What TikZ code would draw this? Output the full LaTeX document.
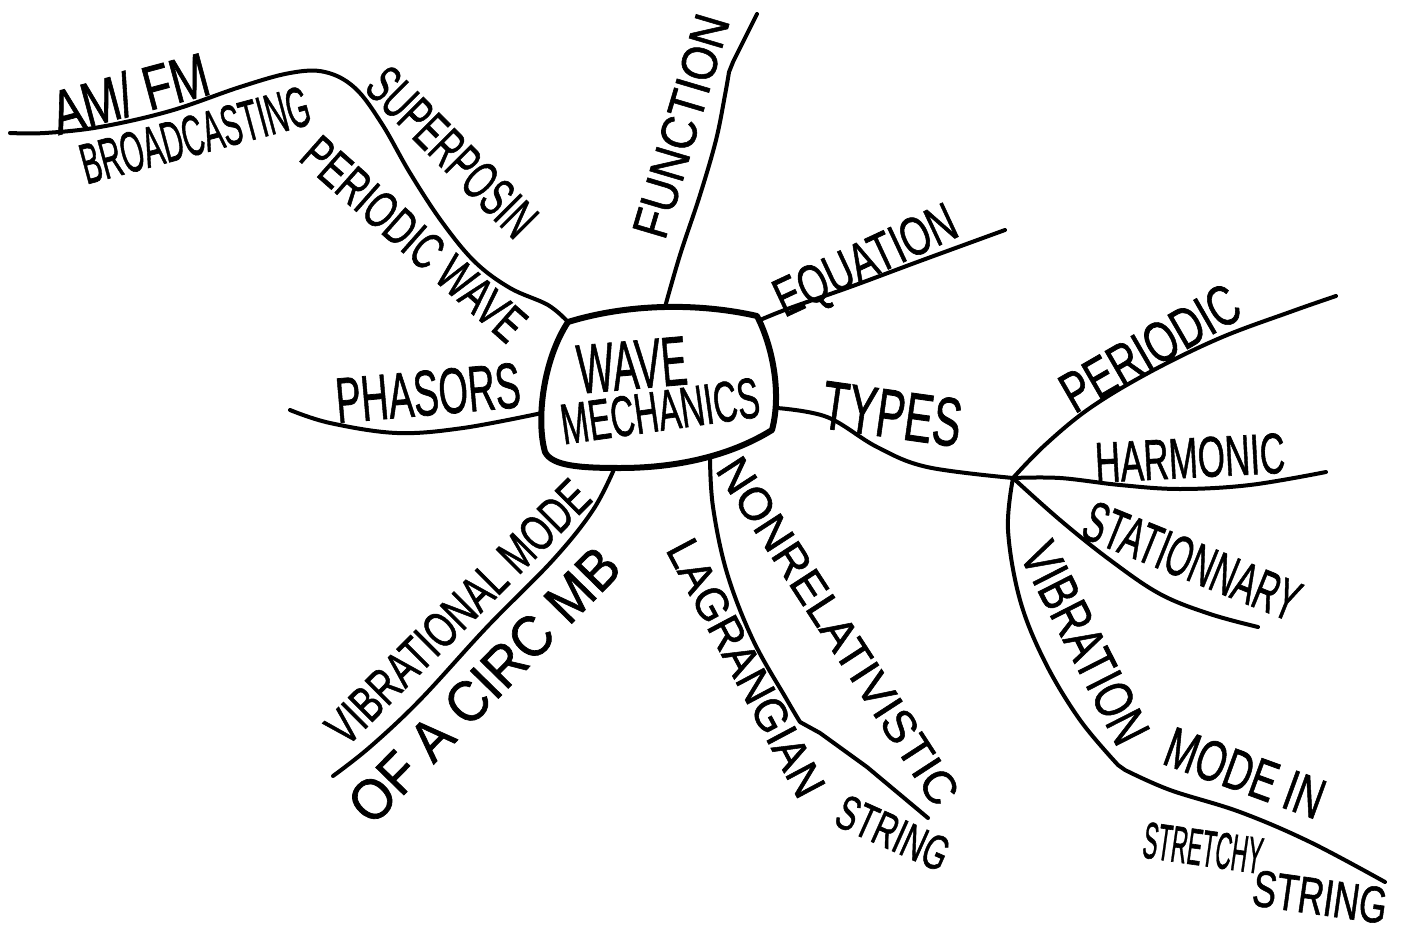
\documentclass[tikz,border=0pt]{standalone}
\usepackage{fontspec}
\usepackage{graphicx}
\newfontfamily\pen[FakeBold=1.2]{Liberation Sans}
\newcommand{\hw}[3]{\resizebox{#1pt}{#2pt}{\pen #3}}
\tikzset{
  lbl/.style={inner sep=0pt, outer sep=0pt},
  branch/.style={line width=4pt, line cap=round, line join=round},
  hubbox/.style={line width=6pt, line join=round},
}
\begin{document}
\begin{tikzpicture}[x=1pt,y=-1pt]
\useasboundingbox (0,0) rectangle (1404,936);
\fill[white] (0,0) rectangle (1404,936);

% central box attachment points
\coordinate (bTL) at (568,322);
\coordinate (bT) at (665,307);
\coordinate (bTR) at (760,320);
\coordinate (bR) at (777,408);
\coordinate (bL) at (542,413);
\coordinate (bB1) at (615,467);
\coordinate (bB2) at (710,458);
\coordinate (hub) at (1013,478);

% free ends
\coordinate (eAM) at (10,133);
\coordinate (eFun) at (757,14);
\coordinate (eEq) at (1005,230);
\coordinate (ePh) at (290,410);
\coordinate (ePer) at (1336,296);
\coordinate (eHar) at (1326,472);
\coordinate (eSta) at (1258,627);
\coordinate (eVib) at (1385,882);
\coordinate (eCirc) at (333,776);
\coordinate (eNon) at (928,818);

% central box
\draw[hubbox] (568,322) .. controls (630,303) and (700,303) .. (757,316)
  .. controls (772,345) and (782,392) .. (772,430)
  .. controls (740,450) and (690,468) .. (620,468)
  .. controls (580,468) and (552,466) .. (545,452)
  .. controls (536,420) and (543,360) .. (568,322) -- cycle;
\node[lbl, rotate=5] (wave) at (632,365) {\hw{110}{48}{WAVE}};
\node[lbl, rotate=8] (mech) at (660,411) {\hw{200}{40}{MECHANICS}};

% branches
\draw[branch] plot[smooth, tension=0.6] coordinates {(bTL) (548,305) (510,288) (475,262) (442,222) (410,173) (382,124) (355,88) (325,72) (290,73) (240,87) (170,111) (100,127) (45,133) (eAM)};
\draw[branch] plot[smooth, tension=0.6] coordinates {(bT) (680,255) (700,195) (716,140) (725,95) (729,72)} -- (733,62) -- (eFun);
\draw[branch] plot[smooth, tension=0.6] coordinates {(bTR) (790,308) (850,287) (920,261) (eEq)};
\draw[branch] plot[smooth, tension=0.6] coordinates {(bL) (463,428) (397,433) (330,423) (ePh)};
\draw[branch] plot[smooth, tension=0.6] coordinates {(bR) (827,417) (877,447) (927,467) (hub)};
\draw[branch] plot[smooth, tension=0.6] coordinates {(hub) (1045,445) (1090,408) (1150,372) (1220,338) (1290,312) (ePer)};
\draw[branch] plot[smooth, tension=0.6] coordinates {(hub) (1060,478) (1120,485) (1180,489) (1250,485) (eHar)};
\draw[branch] plot[smooth, tension=0.6] coordinates {(hub) (1060,520) (1110,560) (1160,594) (1210,614) (eSta)};
\draw[branch] plot[smooth, tension=0.6] coordinates {(hub) (1008,530) (1020,600) (1045,662) (1080,720) (1118,765)} -- (1125,770) plot[smooth, tension=0.6] coordinates {(1125,770) (1170,790) (1240,812) (1310,842) (eVib)};
\draw[branch] plot[smooth, tension=0.6] coordinates {(bB1) (593,510) (553,560) (487,627) (420,700) (370,747) (eCirc)};
\draw[branch] plot[smooth, tension=0.6] coordinates {(bB2) (713,507) (727,573) (753,640) (787,700) (800,722)} -- (820,733) -- (867,767) -- (eNon);

% labels
\node[lbl, rotate=15] (amfm) at (130,93) {\hw{160}{45}{AM/ FM}};
\node[lbl, rotate=15] (broad) at (195,135) {\hw{235}{40}{BROADCASTING}};
\node[lbl, rotate=-45] (superp) at (452,152) {\hw{215}{38}{SUPERPOSIN}};
\node[lbl, rotate=-41.5] (perwave) at (414,239) {\hw{280}{36}{PERIODIC WAVE}};
\node[lbl, rotate=73.5] (func) at (681,126) {\hw{230}{35}{FUNCTION}};
\node[lbl, rotate=25] (equ) at (867,264) {\hw{195}{38}{EQUATION}};
\node[lbl, rotate=5] (phas) at (428,393) {\hw{185}{45}{PHASORS}};
\node[lbl, rotate=-8] (types) at (892,414) {\hw{140}{48}{TYPES}};
\node[lbl, rotate=30] (peri) at (1150,348) {\hw{197}{40}{PERIODIC}};
\node[lbl, rotate=3] (harm) at (1190,458) {\hw{190}{40}{HARMONIC}};
\node[lbl, rotate=-22] (stat) at (1192,561) {\hw{228}{40}{STATIONNARY}};
\node[lbl, rotate=-63] (vibr) at (1085,643) {\hw{218}{38}{VIBRATION}};
\node[lbl, rotate=-20] (modein) at (1245,773) {\hw{165}{40}{MODE IN}};
\node[lbl, rotate=-8] (stretch) at (1203,848) {\hw{120}{36}{STRETCHY}};
\node[lbl, rotate=-8] (string1) at (1320,897) {\hw{135}{36}{STRING}};
\node[lbl, rotate=45] (vibmode) at (458,612) {\hw{350}{35}{VIBRATIONAL MODE}};
\node[lbl, rotate=45.6] (ofacirc) at (484,685) {\hw{360}{40}{OF A CIRC MB}};
\node[lbl, rotate=-57] (nonrel) at (838,631) {\hw{404}{32}{NONRELATIVISTIC}};
\node[lbl, rotate=-62] (lagr) at (746,668) {\hw{285}{32}{LAGRANGIAN}};
\node[lbl, rotate=-24] (string2) at (893,833) {\hw{118}{34}{STRING}};
\end{tikzpicture}
\end{document}
